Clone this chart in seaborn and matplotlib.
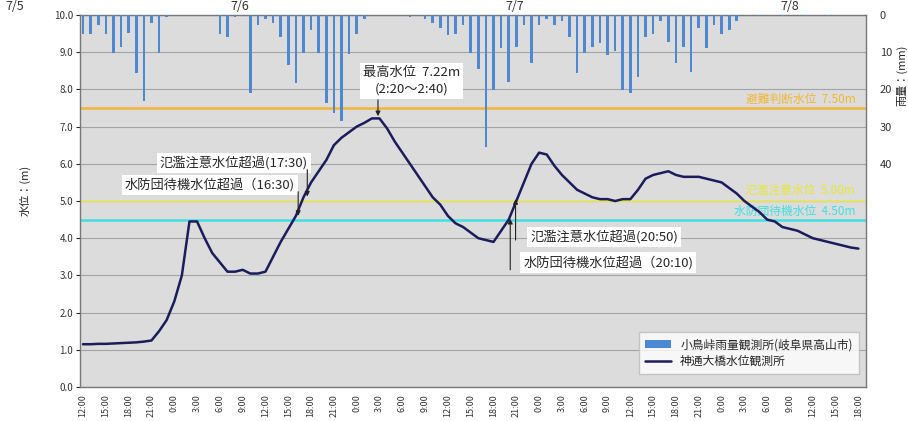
import numpy as np
import pandas as pd
import matplotlib
matplotlib.use("Agg")
import matplotlib.pyplot as plt
import seaborn as sns

# hourly data, hour 0 = first 12:00 tick
rain_mm = [5.0, 5.0, 2.7, 5.0, 10.1, 8.6, 4.8, 15.6, 23.0, 2.2, 10.1, 0.5,
           0, 0, 0, 0, 0, 0, 5.0, 5.8, 0.5, 0, 20.9, 2.7,
           1.2, 2.2, 6.0, 13.4, 18.2, 10.1, 4.0, 10.1, 23.7, 26.3, 28.4, 10.5,
           5.0, 1.0, 0, 0, 0, 0, 0, 0.5, 0, 1.0, 2.2, 3.6,
           5.4, 5.0, 2.7, 10.1, 14.6, 35.4, 20.2, 9.0, 17.9, 8.6, 2.7, 13.0,
           2.7, 1.2, 2.7, 1.6, 5.8, 15.6, 10.1, 8.6, 7.6, 10.8, 9.8, 20.2,
           20.9, 16.6, 5.8, 5.0, 1.6, 7.2, 12.8, 8.6, 15.2, 3.6, 9.0, 2.7,
           5.0, 4.0, 1.6, 0, 0, 0.3, 0, 0, 0.3, 0, 0, 0.3,
           0, 0, 0.3, 0, 0, 0, 0]

level_m = [1.15, 1.15, 1.16, 1.16, 1.17, 1.18, 1.19, 1.2, 1.22, 1.25, 1.5, 1.8,
           2.3, 3.0, 4.45, 4.45, 4.0, 3.6, 3.35, 3.1, 3.1, 3.15, 3.05, 3.05,
           3.1, 3.5, 3.9, 4.25, 4.6, 5.1, 5.5, 5.8, 6.1, 6.5, 6.7, 6.85,
           7.0, 7.1, 7.22, 7.22, 6.95, 6.6, 6.3, 6.0, 5.7, 5.4, 5.1, 4.9,
           4.6, 4.4, 4.3, 4.15, 4.0, 3.95, 3.9, 4.2, 4.5, 5.0, 5.5, 6.0,
           6.3, 6.25, 5.95, 5.7, 5.5, 5.3, 5.2, 5.1, 5.05, 5.05, 5.0, 5.05,
           5.05, 5.3, 5.6, 5.7, 5.75, 5.8, 5.7, 5.65, 5.65, 5.65, 5.6, 5.55,
           5.5, 5.35, 5.2, 5.0, 4.85, 4.7, 4.5, 4.45, 4.3, 4.25, 4.2, 4.1,
           4.0, 3.95, 3.9, 3.85, 3.8, 3.75, 3.72]

hours = list(range(len(level_m)))
tick_labels = ["12:00", "15:00", "18:00", "21:00", "0:00", "3:00", "6:00", "9:00"] * 4 + ["12:00", "15:00", "18:00"]
day_labels = ["7/5", "7/6", "7/7", "7/8"]

thresholds = [7.5, 5.0, 4.5]
threshold_names = ["避難判断水位  7.50m", "氾濫注意水位  5.00m", "水防団待機水位  4.50m"]
threshold_colors = ["#f2b632", "#e8e830", "#3fe0e0"]

df_level = pd.DataFrame({"hour": hours, "level": level_m})
df_rain = pd.DataFrame({"hour": hours, "rain": rain_mm})

sns.set_style("white")
plt.rcParams["font.family"] = ["Noto Sans CJK JP", "DejaVu Sans"]

fig = plt.figure(figsize=(9.08, 4.21), dpi=100)
ax = fig.add_axes([80 / 908, 1 - 387 / 421, 786 / 908, 372 / 421])
ax.set_facecolor("#dcdcdc")

ax.set_xlim(-0.4, 103.0)
ax.set_ylim(0, 10)
ax.set_yticks(np.arange(0, 10.1, 1.0))
ax.set_yticklabels([f"{v:.1f}" for v in np.arange(0, 10.1, 1.0)], fontsize=7, color="#333333")
ax.grid(axis="y", color="#a4a4a4", lw=0.8)
ax.set_axisbelow(True)
ax.set_xticks(np.arange(0, 103, 3))
ax.set_xticklabels(tick_labels, rotation=90, fontsize=6.5, color="#333333")
ax.tick_params(axis="both", length=3, pad=2)
for s in ax.spines.values():
    s.set_color("#777777")
    s.set_linewidth(1)

for val, col in zip(thresholds, threshold_colors):
    ax.axhline(val, color=col, lw=1.0 if val == 5.0 else 1.8, zorder=2)

for yv, name, col in zip([7.74, 5.29, 4.72], threshold_names, threshold_colors):
    ax.text(101.6, yv, name, color=col, fontsize=8.5, ha="right", va="center")

# rainfall on inverted right axis
ax2 = ax.twinx()
sns.barplot(data=df_rain, x="hour", y="rain", native_scale=True, color="#4d88d2",
            width=0.35, saturation=1, linewidth=0, ax=ax2,
            label="小鳥峠雨量観測所(岐阜県高山市)")
ax2.set_ylim(100, 0)
ax2.set_xlim(-0.4, 103.0)
ax2.set_yticks([0, 10, 20, 30, 40])
ax2.set_yticklabels(["0", "10", "20", "30", "40"], fontsize=8, color="#333333")
ax2.set_ylabel("")
ax2.set_xlabel("")
ax2.tick_params(axis="y", length=0, pad=10)
for s in ax2.spines.values():
    s.set_visible(False)
h2, l2 = ax2.get_legend_handles_labels()
if ax2.get_legend():
    ax2.get_legend().remove()

# water level on top
ax3 = ax.twinx()
sns.lineplot(data=df_level, x="hour", y="level", color="#1c1c5c", lw=1.8, ax=ax3,
             label="神通大橋水位観測所")
ax3.set_ylim(0, 10)
ax3.set_xlim(-0.4, 103.0)
ax3.set_yticks([])
ax3.set_ylabel("")
ax3.set_xlabel("")
for s in ax3.spines.values():
    s.set_visible(False)
h3, l3 = ax3.get_legend_handles_labels()
if ax3.get_legend():
    ax3.get_legend().remove()

box = dict(boxstyle="square,pad=0.25", fc="white", ec="none")
arrow = dict(arrowstyle="-|>", color="#222222", lw=0.8, mutation_scale=7, shrinkA=0, shrinkB=0)

ax3.text(43.2, 8.23, "最高水位  7.22m\n(2:20～2:40)", fontsize=9.5, ha="center", va="center",
         bbox=box, linespacing=1.4)
ax3.annotate("", xy=(38.8, 7.28), xytext=(38.8, 7.72), arrowprops=arrow)

ax3.text(29.6, 6.02, "氾濫注意水位超過(17:30)", fontsize=9.5, ha="right", va="center", bbox=box)
ax3.annotate("", xy=(29.5, 5.12), xytext=(29.5, 5.84), arrowprops=arrow)
ax3.text(27.9, 5.43, "水防団待機水位超過（16:30)", fontsize=9.5, ha="right", va="center", bbox=box)
ax3.annotate("", xy=(28.3, 4.6), xytext=(28.3, 5.25), arrowprops=arrow)

ax3.text(58.8, 4.03, "氾濫注意水位超過(20:50)", fontsize=9.5, ha="left", va="center", bbox=box)
ax3.annotate("", xy=(56.9, 5.05), xytext=(56.9, 3.95), arrowprops=arrow)
ax3.text(57.9, 3.35, "水防団待機水位超過（20:10)", fontsize=9.5, ha="left", va="center", bbox=box)
ax3.annotate("", xy=(56.2, 4.52), xytext=(56.2, 3.15), arrowprops=arrow)

# legend
leg = ax3.legend(h2 + h3, l2 + l3, loc="lower right", bbox_to_anchor=(0.998, 0.02),
                 fontsize=8.5, frameon=True, fancybox=False, edgecolor="#bbbbbb",
                 handlelength=2.2, borderpad=0.5, labelspacing=0.3)
leg.get_frame().set_facecolor("white")

fig.text(25 / 908, 1 - 190 / 421, "水位：(m)", rotation=90, fontsize=8, ha="center", va="center")
fig.text(902 / 908, 1 - 75 / 421, "雨量：(mm)", rotation=90, fontsize=8, ha="center", va="center")

for lab, px in zip(day_labels, [15, 240, 515, 790]):
    fig.text(px / 908, 0.999, lab, fontsize=9, ha="center", va="top", color="#333333")

fig.savefig("out.png", dpi=100)
